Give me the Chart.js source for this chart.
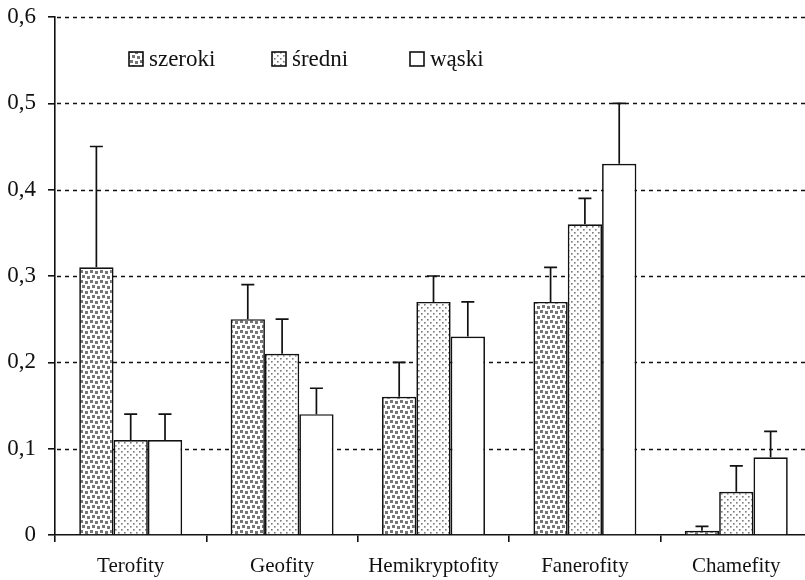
<!DOCTYPE html>
<html>
<head>
<meta charset="utf-8">
<script src="https://cdn.jsdelivr.net/npm/chart.js@4/dist/chart.umd.min.js"></script>
<style>
  html, body { margin: 0; padding: 0; background: #fff; overflow: hidden; }
  #wrap { width: 812px; height: 580px; }
</style>
</head>
<body>
<div id="wrap"><canvas id="c" width="812" height="580"></canvas></div>
<script>
// Life-form shares by habitat width, with upper error whiskers
const categories = ['Terofity', 'Geofity', 'Hemikryptofity', 'Fanerofity', 'Chamefity'];
const seriesNames = ['szeroki', 'średni', 'wąski'];

const szeroki = [0.31, 0.25, 0.16, 0.27, 0.005];
const sredni  = [0.11, 0.21, 0.27, 0.36, 0.05];
const waski   = [0.11, 0.14, 0.23, 0.43, 0.09];

// upper whisker length above each bar
const szerokiErr = [0.14, 0.04, 0.04, 0.04, 0.005];
const sredniErr  = [0.03, 0.04, 0.03, 0.03, 0.03];
const waskiErr   = [0.03, 0.03, 0.04, 0.07, 0.03];

const yTicks = [0, 0.1, 0.2, 0.3, 0.4, 0.5, 0.6];

const FONT = "'Liberation Serif', 'Times New Roman', serif";

// fill textures
function squaresPattern() {
  const c = document.createElement('canvas');
  c.width = 10; c.height = 10;
  const g = c.getContext('2d');
  g.fillStyle = '#fff'; g.fillRect(0, 0, 10, 10);
  g.fillStyle = '#767676';
  [[0, 0], [5, 1], [2, 5], [7, 6]].forEach(([x, y]) => g.fillRect(x, y, 3, 3));
  return g.createPattern(c, 'repeat');
}
function dotsPattern() {
  const c = document.createElement('canvas');
  c.width = 6; c.height = 6;
  const g = c.getContext('2d');
  g.fillStyle = '#fff'; g.fillRect(0, 0, 6, 6);
  g.fillStyle = '#7a7a7a';
  [[1, 1], [4, 4]].forEach(([x, y]) => g.fillRect(x, y, 1.6, 1.6));
  return g.createPattern(c, 'repeat');
}

const fills = [squaresPattern(), dotsPattern(), '#ffffff'];
const values = [szeroki, sredni, waski];
const errors = [szerokiErr, sredniErr, waskiErr];

// dotted horizontal guide lines behind the bars
const dottedGrid = {
  id: 'dottedGrid',
  beforeDatasetsDraw(chart) {
    const { ctx, chartArea, scales } = chart;
    ctx.save();
    ctx.strokeStyle = '#111';
    ctx.lineWidth = 1.5;
    ctx.setLineDash([4, 4]);
    yTicks.forEach(v => {
      if (v === 0) return;
      const y = Math.round(scales.y.getPixelForValue(v)) + 0.5;
      ctx.beginPath();
      ctx.moveTo(chartArea.left + 2, y);
      ctx.lineTo(chartArea.right, y);
      ctx.stroke();
    });
    ctx.restore();
  }
};

// upper error whiskers with caps
const whiskers = {
  id: 'whiskers',
  afterDatasetsDraw(chart) {
    const { ctx, scales } = chart;
    ctx.save();
    ctx.strokeStyle = '#111';
    ctx.lineWidth = 1.7;
    chart.data.datasets.forEach((ds, di) => {
      const meta = chart.getDatasetMeta(di);
      meta.data.forEach((bar, i) => {
        const top = scales.y.getPixelForValue(ds.data[i] + errors[di][i]);
        ctx.beginPath();
        ctx.moveTo(bar.x, bar.y);
        ctx.lineTo(bar.x, top);
        ctx.moveTo(bar.x - 6.5, top);
        ctx.lineTo(bar.x + 6.5, top);
        ctx.stroke();
      });
    });
    ctx.restore();
  }
};

// legend placed inside the plot area
const legendPos = [129, 272, 410];
const innerLegend = {
  id: 'innerLegend',
  afterDraw(chart) {
    const { ctx } = chart;
    ctx.save();
    ctx.font = '23px ' + FONT;
    ctx.textBaseline = 'middle';
    const yc = 59;
    chart.data.datasets.forEach((ds, i) => {
      const x = legendPos[i];
      ctx.fillStyle = ds.backgroundColor;
      ctx.fillRect(x, yc - 7, 14, 14);
      ctx.strokeStyle = '#111';
      ctx.lineWidth = 1.6;
      ctx.strokeRect(x, yc - 7, 14, 14);
      ctx.fillStyle = '#111';
      ctx.fillText(ds.label, x + 20, yc + 1);
    });
    ctx.restore();
  }
};

new Chart(document.getElementById('c'), {
  type: 'bar',
  data: {
    labels: categories,
    datasets: seriesNames.map((name, i) => ({
      label: name,
      data: values[i],
      backgroundColor: fills[i],
      borderColor: '#111',
      borderWidth: 1.7,
      borderSkipped: 'bottom',
      categoryPercentage: 0.68,
      barPercentage: 1.0
    }))
  },
  options: {
    responsive: false,
    animation: false,
    devicePixelRatio: 1,
    layout: { padding: { top: 17, left: 0, right: 0, bottom: 0 } },
    plugins: {
      legend: { display: false },
      tooltip: { enabled: false }
    },
    scales: {
      x: {
        grid: {
          display: true,
          offset: true,
          drawOnChartArea: false,
          drawTicks: true,
          tickLength: 7,
          color: '#111',
          lineWidth: 1.6
        },
        border: { display: true, color: '#111', width: 1.6 },
        ticks: {
          font: { family: FONT, size: 21 },
          color: '#111',
          padding: 12,
          maxRotation: 0
        },
        afterFit(scale) {
          scale.height = 45;
          scale.paddingLeft = 0;
          scale.paddingRight = 0;
        }
      },
      y: {
        min: 0,
        max: 0.6,
        afterBuildTicks(scale) { scale.ticks = yTicks.map(v => ({ value: v })); },
        grid: {
          display: true,
          drawOnChartArea: false,
          drawTicks: true,
          tickLength: 7,
          color: '#111',
          lineWidth: 1.6
        },
        border: { display: true, color: '#111', width: 1.6 },
        ticks: {
          font: { family: FONT, size: 23 },
          color: '#111',
          padding: 12,
          callback: v => v === 0 ? '0' : v.toFixed(1).replace('.', ',')
        },
        afterFit(scale) {
          scale.width = 55;
          scale.paddingTop = 0;
          scale.paddingBottom = 0;
        }
      }
    }
  },
  plugins: [dottedGrid, whiskers, innerLegend]
});
</script>
</body>
</html>
